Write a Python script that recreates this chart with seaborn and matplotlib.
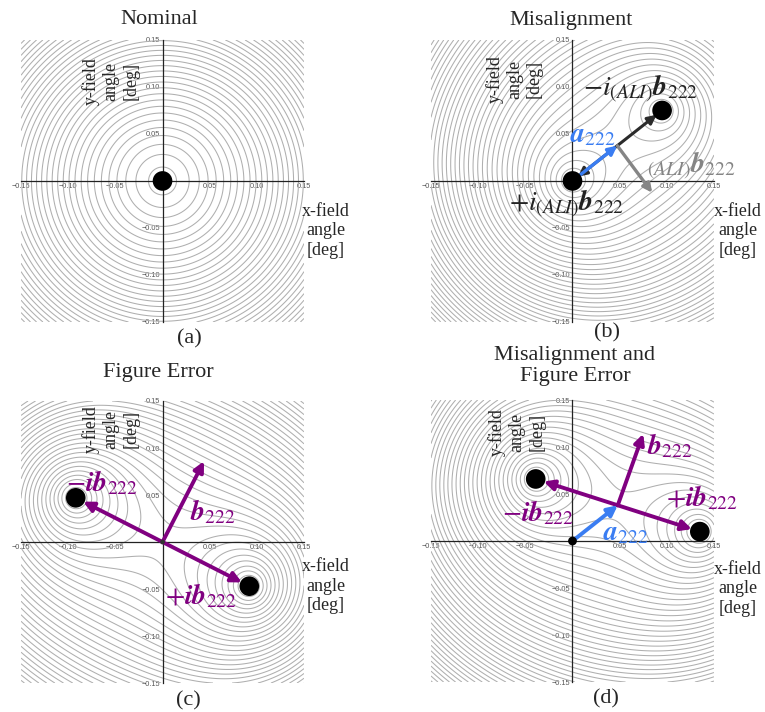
import numpy as np
import matplotlib
matplotlib.use("Agg")
import matplotlib.pyplot as plt
from matplotlib.ticker import MultipleLocator, FuncFormatter
import seaborn as sns

sns.set_style("white")
plt.rcParams["font.family"] = ["Liberation Serif", "DejaVu Serif"]
plt.rcParams["mathtext.fontset"] = "stix"

# ---- data -------------------------------------------------------------
panel_titles = ["Nominal", "Misalignment", "Figure Error", "Misalignment and\nFigure Error"]
panel_tags = ["(a)", "(b)", "(c)", "(d)"]

# astigmatism node locations (field angle, deg)
node1_x = [0.0, 0.0, -0.092, -0.039]
node1_y = [0.0, 0.0, 0.047, 0.066]
node2_x = [0.0, 0.095, 0.092, 0.135]
node2_y = [0.0, 0.075, -0.047, 0.010]

# a222 (node midpoint) and b222 vectors
a222_x = [0.0, 0.0475, 0.0, 0.048]
a222_y = [0.0, 0.0375, 0.0, 0.038]
b222_x = [np.nan, 0.037, 0.044, 0.027]
b222_y = [np.nan, -0.050, 0.086, 0.076]

field_lim = 0.15
level_start = 0.0018
level_step = 0.00294

PURPLE = "#800080"
BLUE = "#3a7df2"
GREY = "#858585"
DARK = "#2b2b2b"

# axes boxes [left, bottom, width, height] in figure fraction
boxes = [
    [0.0275, 0.5478, 0.3699, 0.3961],
    [0.5634, 0.5478, 0.3699, 0.3961],
    [0.0275, 0.0407, 0.3699, 0.3961],
    [0.5634, 0.0421, 0.3699, 0.3961],
]

fig = plt.figure(figsize=(7.65, 7.12), dpi=100)

g = np.linspace(-field_lim, field_lim, 500)
X, Y = np.meshgrid(g, g)


def tick_fmt(v, pos):
    if abs(v) < 1e-9:
        return ""
    return f"{v:.2f}".replace("-", "\u2212")


def arrow(ax, x0, y0, x1, y1, color, lw, ms, shrinkA=0, shrinkB=0, z=4):
    ax.annotate("", xy=(x1, y1), xytext=(x0, y0),
                arrowprops=dict(arrowstyle="-|>", color=color, lw=lw,
                                mutation_scale=ms, shrinkA=shrinkA, shrinkB=shrinkB),
                zorder=z, annotation_clip=False)


axes = []
for i, box in enumerate(boxes):
    ax = fig.add_axes(box)
    axes.append(ax)
    d1 = np.hypot(X - node1_x[i], Y - node1_y[i])
    d2 = np.hypot(X - node2_x[i], Y - node2_y[i])
    Z = (d1 * d2) ** 0.75
    levels = np.arange(level_start, Z.max() + level_step, level_step)
    ax.contour(X, Y, Z, levels=levels, colors="#afafaf", linewidths=0.75, zorder=1)

    ax.set_xlim(-field_lim, field_lim)
    ax.set_ylim(-field_lim, field_lim)
    ax.set_aspect("auto")
    for s in ("top", "right"):
        ax.spines[s].set_visible(False)
    for s in ("left", "bottom"):
        ax.spines[s].set_position(("data", 0))
        ax.spines[s].set_color("#222222")
        ax.spines[s].set_linewidth(0.9)
        ax.spines[s].set_zorder(2.5)
    ax.xaxis.set_major_locator(MultipleLocator(0.05))
    ax.yaxis.set_major_locator(MultipleLocator(0.05))
    ax.xaxis.set_minor_locator(MultipleLocator(0.01))
    ax.yaxis.set_minor_locator(MultipleLocator(0.01))
    ax.xaxis.set_major_formatter(FuncFormatter(tick_fmt))
    ax.yaxis.set_major_formatter(FuncFormatter(tick_fmt))
    ax.tick_params(which="major", direction="in", length=3, width=0.8, color="#222222",
                   labelsize=5.3, labelcolor="#555555", pad=1.5)
    ax.tick_params(which="minor", direction="in", length=1.6, width=0.6, color="#222222")
    for lab in ax.get_xticklabels() + ax.get_yticklabels():
        lab.set_family("Liberation Sans")
    ax.set_facecolor("none")

# titles and tags (figure pixels -> fraction)
W, H = 765.0, 712.0
title_pos = [(159, 20), (571, 20), (158, 372), (575, 366)]
tag_pos = [(189, 339), (607, 333), (188, 701), (606, 699)]
for i in range(4):
    fig.text(title_pos[i][0] / W, 1 - title_pos[i][1] / H, panel_titles[i],
             ha="center", va="center", fontsize=16, linespacing=1.1)
    fig.text(tag_pos[i][0] / W, 1 - tag_pos[i][1] / H, panel_tags[i],
             ha="center", va="center", fontsize=16)

# axis captions
ylab_pos = [(-0.055, 0.106), (-0.0615, 0.108), (-0.055, 0.120), (-0.059, 0.116)]
xlab_pos = [(0.173, -0.053), (0.175, -0.053), (0.173, -0.047), (0.175, -0.051)]
for i, ax in enumerate(axes):
    ax.text(*ylab_pos[i], "y-field\nangle\n[deg]", rotation=90, ha="center", va="center",
            fontsize=13, linespacing=1.2, multialignment="center", zorder=3)
    ax.text(*xlab_pos[i], "x-field\nangle\n[deg]", ha="center", va="center",
            fontsize=13, linespacing=1.2, multialignment="center", clip_on=False, zorder=3)

# ---- (a) nominal -----------------------------------------------------
ax = axes[0]
sns.scatterplot(x=[node1_x[0]], y=[node1_y[0]], s=200, color="black", edgecolor="none",
                ax=ax, zorder=6, legend=False, clip_on=False)

# ---- (b) misalignment -------------------------------------------------
ax = axes[1]
ax0, ay0 = a222_x[1], a222_y[1]
arrow(ax, ax0, ay0, node2_x[1], node2_y[1], DARK, 2.2, 13, shrinkB=5)
arrow(ax, ax0, ay0, node1_x[1], node1_y[1], DARK, 2.2, 13, shrinkB=5)
arrow(ax, node1_x[1], node1_y[1], ax0, ay0, BLUE, 2.4, 13, shrinkA=4, z=4.5)
arrow(ax, ax0, ay0, ax0 + b222_x[1], ay0 + b222_y[1], GREY, 2.4, 13)
sns.scatterplot(x=[node1_x[1], node2_x[1]], y=[node1_y[1], node2_y[1]], s=200,
                color="black", edgecolor="none", ax=ax, zorder=6, legend=False)
ax.text(0.072, 0.098, r"$-i_{(ALI)}\mathbfit{b}_{222}$", fontsize=20, ha="center",
        va="center", color="#222222", zorder=7)
ax.text(0.022, 0.048, r"$\mathbfit{a}_{222}$", fontsize=20, ha="center", va="center",
        color=BLUE, zorder=7)
ax.text(0.126, 0.016, r"${}_{(ALI)}\mathbfit{b}_{222}$", fontsize=20, ha="center",
        va="center", color=GREY, zorder=7, clip_on=False)
ax.text(-0.006, -0.024, r"$+i_{(ALI)}\mathbfit{b}_{222}$", fontsize=20, ha="center",
        va="center", color="#222222", zorder=7)

# ---- (c) figure error -------------------------------------------------
ax = axes[2]
arrow(ax, a222_x[2], a222_y[2], node1_x[2], node1_y[2], PURPLE, 2.8, 15, shrinkB=6)
arrow(ax, a222_x[2], a222_y[2], node2_x[2], node2_y[2], PURPLE, 2.8, 15, shrinkB=6)
arrow(ax, a222_x[2], a222_y[2], a222_x[2] + b222_x[2], a222_y[2] + b222_y[2], PURPLE, 2.8, 15)
sns.scatterplot(x=[node1_x[2], node2_x[2]], y=[node1_y[2], node2_y[2]], s=200,
                color="black", edgecolor="none", ax=ax, zorder=6, legend=False)
sns.scatterplot(x=[a222_x[2]], y=[a222_y[2]], s=12, color="#333333", edgecolor="none",
                ax=ax, zorder=6, legend=False)
ax.text(-0.064, 0.063, r"$-\mathbfit{ib}_{222}$", fontsize=20, ha="center", va="center",
        color=PURPLE, zorder=7)
ax.text(0.053, 0.032, r"$\mathbfit{b}_{222}$", fontsize=20, ha="center", va="center",
        color=PURPLE, zorder=7)
ax.text(0.041, -0.058, r"$+\mathbfit{ib}_{222}$", fontsize=20, ha="center", va="center",
        color=PURPLE, zorder=7)

# ---- (d) misalignment and figure error ---------------------------------
ax = axes[3]
ax0, ay0 = a222_x[3], a222_y[3]
arrow(ax, ax0, ay0, node1_x[3], node1_y[3], PURPLE, 2.8, 15, shrinkB=6)
arrow(ax, ax0, ay0, node2_x[3], node2_y[3], PURPLE, 2.8, 15, shrinkB=6)
arrow(ax, ax0, ay0, ax0 + b222_x[3], ay0 + b222_y[3], PURPLE, 2.8, 15)
arrow(ax, 0.0, 0.0, ax0, ay0, BLUE, 2.8, 15, z=4.5)
sns.scatterplot(x=[node1_x[3], node2_x[3]], y=[node1_y[3], node2_y[3]], s=200,
                color="black", edgecolor="none", ax=ax, zorder=6, legend=False)
sns.scatterplot(x=[0.0], y=[0.0], s=40, color="black", edgecolor="none",
                ax=ax, zorder=6, legend=False)
ax.text(0.103, 0.101, r"$\mathbfit{b}_{222}$", fontsize=20, ha="center", va="center",
        color=PURPLE, zorder=7)
ax.text(0.137, 0.046, r"$+\mathbfit{ib}_{222}$", fontsize=20, ha="center", va="center",
        color=PURPLE, zorder=7)
ax.text(-0.037, 0.030, r"$-\mathbfit{ib}_{222}$", fontsize=20, ha="center", va="center",
        color=PURPLE, zorder=7)
ax.text(0.056, 0.008, r"$\mathbfit{a}_{222}$", fontsize=20, ha="center", va="center",
        color=BLUE, zorder=7)

fig.savefig("out.png", dpi=100)
